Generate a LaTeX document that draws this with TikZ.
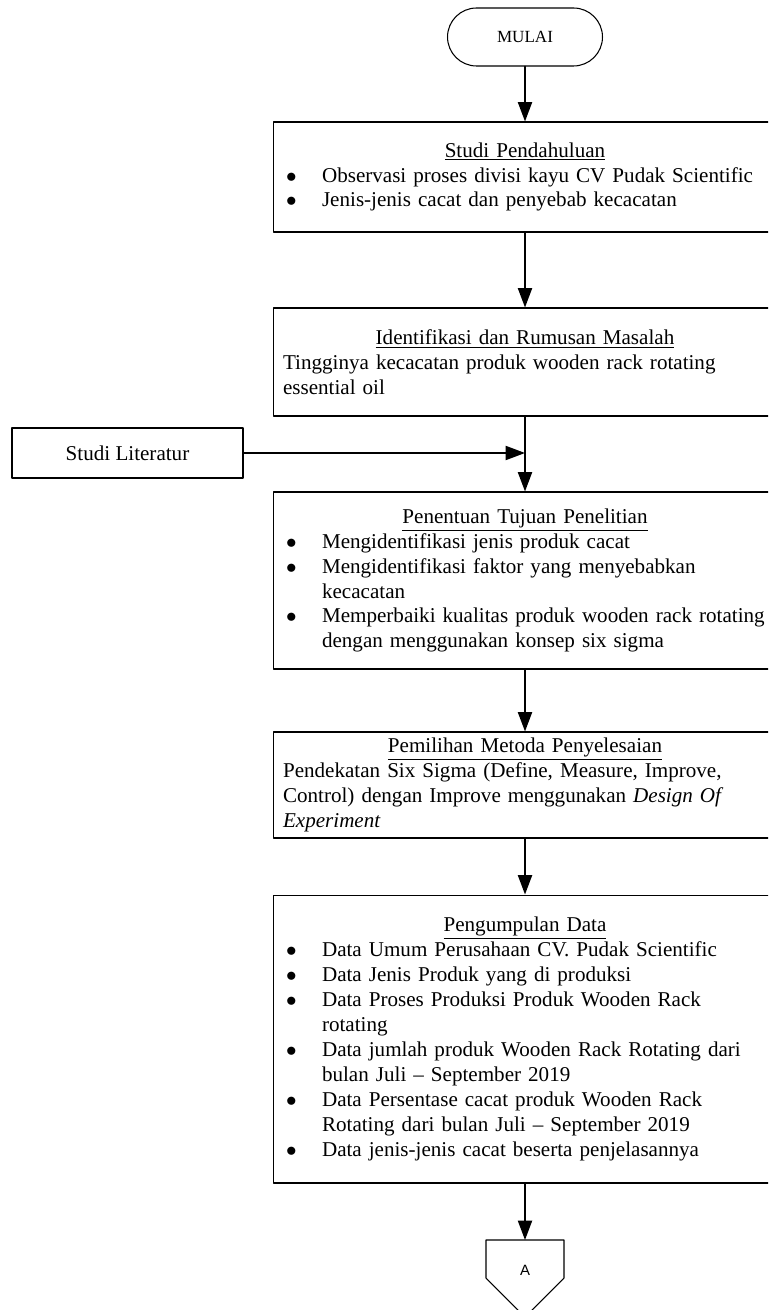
\documentclass[tikz,border=0pt]{standalone}
\usepackage{fontspec}
\setmainfont{Liberation Serif}
\newfontfamily\arialfont{Liberation Sans}
\usepackage{tikz}
\usetikzlibrary{arrows.meta}

\newcommand{\judul}[1]{{\centering\underline{#1}\par}}
\newcommand{\butir}{\par\hangindent=0.78cm\hangafter=1\noindent\makebox[0.78cm][l]{\hspace{0.06cm}$\bullet$}}

\tikzset{
  kotak/.style={draw,line width=0.6pt,rectangle,inner xsep=0.2cm,inner ysep=0pt,
    text width=9.68cm,minimum width=10.08cm,align=left,
    font=\fontsize{12}{14.2}\selectfont},
  terminal/.style={draw,line width=0.6pt,rounded corners=0.58cm,
    minimum width=3.1cm,minimum height=1.16cm,font=\fontsize{9.7}{11}\selectfont},
  panah/.style={-{Triangle[length=11pt,width=8pt]},line width=1pt}
}

\begin{document}
\begin{tikzpicture}[line cap=round,line join=round,x=0.02cm,y=-0.02cm]
        \useasboundingbox (0,0) rectangle (768,1310);
        \clip(0,0) rectangle (768,1310);
        % simbol mulai dan kotak proses
        \node[terminal] (mulai) at (525,37) {MULAI};
        \node[kotak,minimum height=2.2cm] (studi) at (525,177) {\judul{Studi Pendahuluan}
            \butir Observasi proses divisi kayu CV Pudak Scientific
            \butir Jenis-jenis cacat dan penyebab kecacatan\par};
        \node[kotak,minimum height=2.16cm] (rumusan) at (525,362) {\judul{Identifikasi dan Rumusan Masalah}
            Tingginya kecacatan produk wooden rack rotating\\ essential oil};
        \node[draw,line width=0.6pt,minimum width=4.62cm,minimum height=1cm,
            font=\fontsize{12}{14.2}\selectfont] (literatur) at (127.5,453) {Studi Literatur};
        \node[kotak,minimum height=3.54cm] (tujuan) at (525,580.5) {\judul{Penentuan Tujuan Penelitian}
            \butir Mengidentifikasi jenis produk cacat
            \butir Mengidentifikasi faktor yang menyebabkan\newline kecacatan
            \butir Memperbaiki kualitas produk wooden rack rotating\newline dengan menggunakan konsep six sigma\par};
        \node[kotak,minimum height=2.12cm] (metoda) at (525,785) {\judul{Pemilihan Metoda Penyelesaian}
            Pendekatan Six Sigma (Define, Measure, Improve,\\ Control) dengan Improve menggunakan \textit{Design Of}\\ \textit{Experiment}};
        \node[kotak,minimum height=5.76cm] (kumpul) at (525,1039) {\judul{Pengumpulan Data}
            \butir Data Umum Perusahaan CV. Pudak Scientific
            \butir Data Jenis Produk yang di produksi
            \butir Data Proses Produksi Produk Wooden Rack\newline rotating
            \butir Data jumlah produk Wooden Rack Rotating dari\newline bulan Juli – September 2019
            \butir Data Persentase cacat produk Wooden Rack\newline Rotating dari bulan Juli – September 2019
            \butir Data jenis-jenis cacat beserta penjelasannya\par};
        % penghubung ke halaman berikut
        \coordinate (atasA) at (525,1240);
        \draw[line width=0.6pt] (486,1240) -- (564,1240) -- (564,1278) -- (525,1317) -- (486,1278) -- cycle;
        \node[font=\arialfont\fontsize{8.5}{10}\selectfont] (hurufA) at (525,1270) {A};
        % garis alir
        \coordinate (temu) at (rumusan.south |- literatur.east);
        \draw[panah] (mulai) -- (studi);
        \draw[panah] (studi) -- (rumusan);
        \draw[panah] (rumusan) -- (tujuan);
        \draw[panah] (literatur) -- (temu);
        \draw[panah] (tujuan) -- (metoda);
        \draw[panah] (metoda) -- (kumpul);
        \draw[panah] (kumpul) -- (atasA);
    \end{tikzpicture}
\end{document}
